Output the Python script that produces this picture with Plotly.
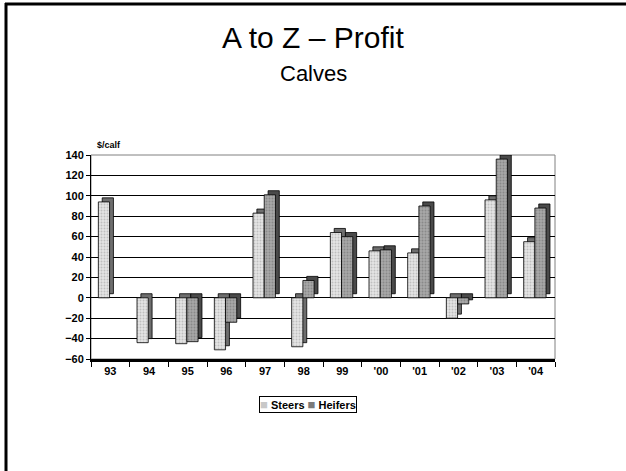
import plotly.graph_objects as go

years = ["93", "94", "95", "96", "97", "98", "99", "'00", "'01", "'02", "'03", "'04"]
steers = [94, -44, -45, -51, 83, -48, 64, 46, 44, -20, 96, 55]
heifers = [None, None, -43, -24, 101, 17, 60, 47, 90, -6, 136, 88]
y_ticks = [-60, -40, -20, 0, 20, 40, 60, 80, 100, 120, 140]

FONT = "Arial, Liberation Sans, sans-serif"
DEPTH_Y = 4      # 3-D depth in value units
DEPTH_X = 0.1    # 3-D depth in category units
W = 0.29

# plot area in pixels
L, R, T, B = 91, 555, 155, 359
PW, PH = 626, 471

def px(x):
    return (x - L) / (R - L)

def py(y):
    return (B - y) / (B - T)

fig = go.Figure()

series = [
    ("Steers", steers, -0.31, "#e4e4e4", "#9a9a9a", "#6e6e6e"),
    ("Heifers", heifers, -0.02, "#a8a8a8", "#6a6a6a", "#4a4a4a"),
]
for name, vals, off, bg, fg, side in series:
    fig.add_trace(go.Bar(
        x=years, y=vals, base=DEPTH_Y, offset=off + DEPTH_X, width=W,
        marker=dict(color=side, line=dict(color="black", width=0.8)),
        showlegend=False, hoverinfo="skip"))
    fig.add_trace(go.Bar(
        x=years, y=vals, name=name, offset=off, width=W, showlegend=False,
        marker=dict(color=bg, line=dict(color="black", width=0.8),
                    pattern=dict(shape=".", bgcolor=bg, fgcolor=fg, size=3, solidity=0.35)),
    ))

legend_text = ("<span style='color:#c8c8c8;font-size:13px'>■</span> Steers "
               "<span style='color:#7a7a7a;font-size:13px'>■</span> Heifers")

fig.update_layout(
    width=PW, height=PH,
    barmode="overlay",
    paper_bgcolor="white", plot_bgcolor="white",
    margin=dict(l=L, r=PW - R, t=T, b=PH - B),
    font=dict(family=FONT, color="black"),
    showlegend=False,
    xaxis=dict(type="category", tickson="boundaries", ticks="outside", ticklen=5,
               tickcolor="black", showline=True, linecolor="black", linewidth=3,
               tickfont=dict(size=11, family=FONT, weight="bold"), showgrid=False,
               range=[-0.5, 11.5], fixedrange=True),
    yaxis=dict(range=[-60, 140], tickvals=y_ticks, ticks="outside", ticklen=4,
               tickcolor="black", showline=True, linecolor="black", linewidth=1,
               showgrid=True, gridcolor="black", gridwidth=1,
               zeroline=True, zerolinecolor="black", zerolinewidth=1,
               tickfont=dict(size=11, family=FONT, weight="bold")),
    annotations=[
        dict(text="A to Z – Profit", x=px(313), y=py(37), xref="paper", yref="paper",
             xanchor="center", yanchor="middle",
             showarrow=False, font=dict(size=30, family=FONT)),
        dict(text="Calves", x=px(313), y=py(73), xref="paper", yref="paper",
             xanchor="center", yanchor="middle",
             showarrow=False, font=dict(size=22, family=FONT)),
        dict(text="$/calf", x=px(95), y=py(145), xref="paper", yref="paper",
             xanchor="left", yanchor="middle",
             showarrow=False, font=dict(size=9, family=FONT, weight="bold")),
        dict(text=legend_text, x=px(308), y=py(404), xref="paper", yref="paper",
             xanchor="center", yanchor="middle", showarrow=False,
             bordercolor="black", borderwidth=1, borderpad=0, bgcolor="white",
             font=dict(size=11, family=FONT, weight="bold")),
    ],
    shapes=[
        dict(type="rect", xref="paper", yref="paper", x0=0, x1=1, y0=0, y1=1,
             line=dict(color="#808080", width=1), layer="below"),
        dict(type="line", xref="paper", yref="paper", x0=px(5), x1=px(630), y0=py(4), y1=py(4),
             line=dict(color="black", width=3)),
        dict(type="line", xref="paper", yref="paper", x0=px(6), x1=px(6), y0=py(3), y1=py(475),
             line=dict(color="black", width=3)),
    ],
)

fig.write_html("out.html", config={"displayModeBar": False},
               post_script="document.body.style.margin='0';document.body.style.overflow='hidden';")
